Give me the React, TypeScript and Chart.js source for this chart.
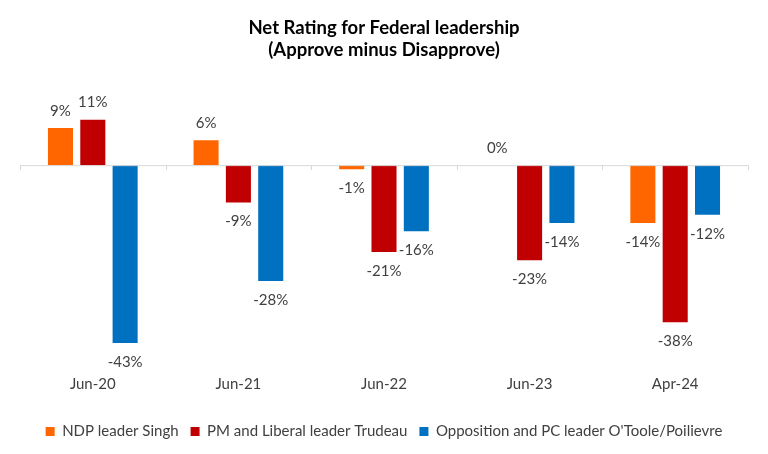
import React, { useEffect, useRef } from "react";
import { Chart, registerables } from "chart.js";

Chart.register(...registerables);

const categories = ["Jun-20", "Jun-21", "Jun-22", "Jun-23", "Apr-24"];
const seriesNames = [
  "NDP leader Singh",
  "PM and Liberal leader Trudeau",
  "Opposition and PC leader O'Toole/Poilievre",
];
const ndpValues = [9, 6, -1, 0, -14];
const pmValues = [11, -9, -21, -23, -38];
const oppValues = [-43, -28, -16, -14, -12];
const seriesColors = ["#FF6600", "#C00000", "#0070C0"];
const titleLines = ["Net Rating for Federal leadership", "(Approve minus Disapprove)"];

const FONT = "Lato, 'Open Sans', sans-serif";

const labelPlugin = {
  id: "valueLabels",
  afterDatasetsDraw(chart: any) {
    const ctx = chart.ctx;
    ctx.save();
    ctx.font = `15px ${FONT}`;
    ctx.fillStyle = "#404040";
    ctx.textAlign = "center";
    ctx.textBaseline = "middle";
    chart.data.datasets.forEach((ds: any, di: number) => {
      const meta = chart.getDatasetMeta(di);
      meta.data.forEach((bar: any, i: number) => {
        const v = ds.data[i];
        const y = v >= 0 ? bar.y - 17 : bar.y + 19;
        ctx.fillText(`${v}%`, bar.x, y);
      });
    });
    ctx.restore();
  },
};

const zeroTicksPlugin = {
  id: "zeroTicks",
  afterDatasetsDraw(chart: any) {
    const ctx = chart.ctx;
    const xs = chart.scales.x;
    const ys = chart.scales.y;
    const y0 = ys.getPixelForValue(0);
    ctx.save();
    ctx.strokeStyle = "#d9d9d9";
    ctx.lineWidth = 1;
    ctx.beginPath();
    ctx.moveTo(xs.left, y0 + 0.5);
    ctx.lineTo(xs.right, y0 + 0.5);
    for (let i = 0; i <= categories.length; i++) {
      const x = Math.round(xs.getPixelForValue(i - 0.5)) + 0.5;
      ctx.moveTo(x, y0);
      ctx.lineTo(x, y0 + 5);
    }
    ctx.stroke();
    ctx.restore();
  },
};

export default function App() {
  const ref = useRef<HTMLCanvasElement>(null);
  useEffect(() => {
    document.body.style.margin = "0";
    const data = [ndpValues, pmValues, oppValues];
    const chart = new Chart(ref.current!, {
      type: "bar",
      data: {
        labels: categories,
        datasets: seriesNames.map((name, i) => ({
          label: name,
          data: data[i],
          backgroundColor: seriesColors[i],
          borderWidth: 0,
          barPercentage: 0.775,
          categoryPercentage: 0.666,
        })),
      },
      options: {
        animation: false,
        responsive: false,
        maintainAspectRatio: false,
        layout: { padding: { left: 20, right: 20, top: 0, bottom: 5 } },
        plugins: {
          title: {
            display: true,
            text: titleLines,
            color: "#000",
            font: { family: FONT, size: 18.5, weight: "bold", lineHeight: 1.2 },
            padding: { top: 17, bottom: 21 },
          },
          legend: {
            position: "bottom",
            labels: {
              boxWidth: 9,
              boxHeight: 9,
              color: "#404040",
              font: { family: FONT, size: 15 },
              padding: 12,
            },
          },
          tooltip: { enabled: false },
        },
        scales: {
          x: {
            grid: { display: false },
            border: { display: false },
            ticks: { color: "#404040", font: { family: FONT, size: 15 }, padding: -5 },
            title: {
              display: true,
              text: "",
              font: { size: 1, lineHeight: 1 },
              padding: { top: 23, bottom: 0 },
            },
          },
          y: {
            min: -50,
            max: 20,
            ticks: { display: false, stepSize: 10 },
            grid: { display: false, drawTicks: false },
            border: { display: false },
          },
        },
      },
      plugins: [zeroTicksPlugin, labelPlugin],
    });
    return () => chart.destroy();
  }, []);
  return (
    <div style={{ width: 768, height: 454 }}>
      <canvas ref={ref} width={768} height={454} style={{ display: "block" }} />
    </div>
  );
}
